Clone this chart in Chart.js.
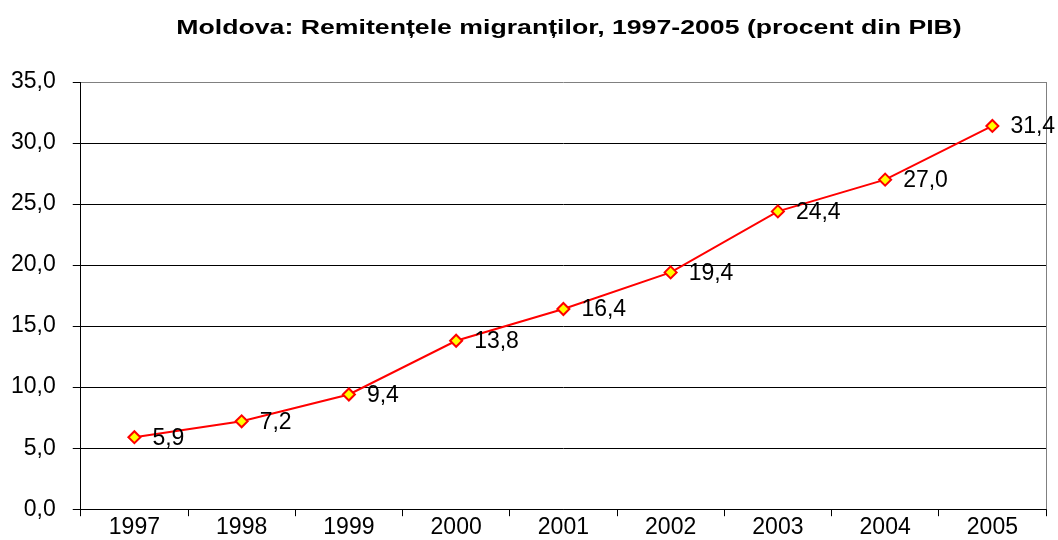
<!DOCTYPE html>
<html>
<head>
<meta charset="utf-8">
<script src="https://cdn.jsdelivr.net/npm/chart.js@4"></script>
<style>
    html, body { margin: 0; padding: 0; background: #fff; }
    #wrap { width: 1058px; height: 540px; }
</style>
</head>
<body>
<div id="wrap"><canvas id="remitChart"></canvas></div>
<script>
// data
const years = ["1997", "1998", "1999", "2000", "2001", "2002", "2003", "2004", "2005"];
const remittances = [5.9, 7.2, 9.4, 13.8, 16.4, 19.4, 24.4, 27.0, 31.4];
const chartTitle = "Moldova: Remitențele migranților, 1997-2005 (procent din PIB)";

const FONT = "'Liberation Sans', Arial, sans-serif";

function fmt(v) {
    return Number(v).toFixed(1).replace(".", ",");
}

// title (a bit wide, like the original), value labels, gray right border
const extras = {
    id: "extras",
    afterDatasetsDraw(chart) {
        const ctx = chart.ctx;
        const area = chart.chartArea;
        ctx.save();
        ctx.strokeStyle = "#808080";
        ctx.lineWidth = 1;
        ctx.beginPath();
        ctx.moveTo(Math.round(area.right) + 0.5, area.top);
        ctx.lineTo(Math.round(area.right) + 0.5, area.bottom);
        ctx.stroke();

        ctx.font = "23px " + FONT;
        ctx.fillStyle = "#000";
        ctx.textAlign = "left";
        ctx.textBaseline = "middle";
        chart.getDatasetMeta(0).data.forEach((pt, i) => {
            ctx.fillText(fmt(remittances[i]), pt.x + 18, pt.y + 1);
        });

        // title
        ctx.font = "bold 21px " + FONT;
        ctx.textAlign = "center";
        ctx.textBaseline = "alphabetic";
        ctx.translate(569, 34);
        ctx.scale(1.27, 1);
        ctx.fillText(chartTitle, 0, 0);
        ctx.restore();
    }
};

const ctx = document.getElementById("remitChart").getContext("2d");
new Chart(ctx, {
    type: "line",
    data: {
        labels: years,
        datasets: [{
            data: remittances,
            borderColor: "#FF0000",
            borderWidth: 2,
            pointStyle: "rectRot",
            pointRadius: 6,
            pointBackgroundColor: "#FFFF00",
            pointBorderColor: "#FF0000",
            pointBorderWidth: 2,
            tension: 0
        }]
    },
    options: {
        responsive: true,
        maintainAspectRatio: false,
        animation: false,
        layout: { padding: { left: -6, right: 12, top: 82, bottom: -8 } },
        plugins: {
            legend: { display: false },
            tooltip: { enabled: false },
            title: { display: false }
        },
        scales: {
            x: {
                offset: true,
                grid: {
                    offset: true,
                    drawOnChartArea: false,
                    color: "#000",
                    tickLength: 7
                },
                border: { color: "#000", width: 1 },
                ticks: {
                    color: "#000",
                    padding: 0,
                    maxRotation: 0,
                    font: { family: FONT, size: 23, lineHeight: 1 }
                }
            },
            y: {
                min: 0,
                max: 35,
                grid: {
                    color: c => (c.tick && c.tick.value === 35) ? "#808080" : "#000",
                    tickColor: "#000",
                    tickLength: 8
                },
                border: { color: "#000", width: 1 },
                ticks: {
                    stepSize: 5,
                    color: "#000",
                    padding: 17,
                    callback: v => fmt(v),
                    font: { family: FONT, size: 23 }
                }
            }
        }
    },
    plugins: [extras]
});
</script>
</body>
</html>
